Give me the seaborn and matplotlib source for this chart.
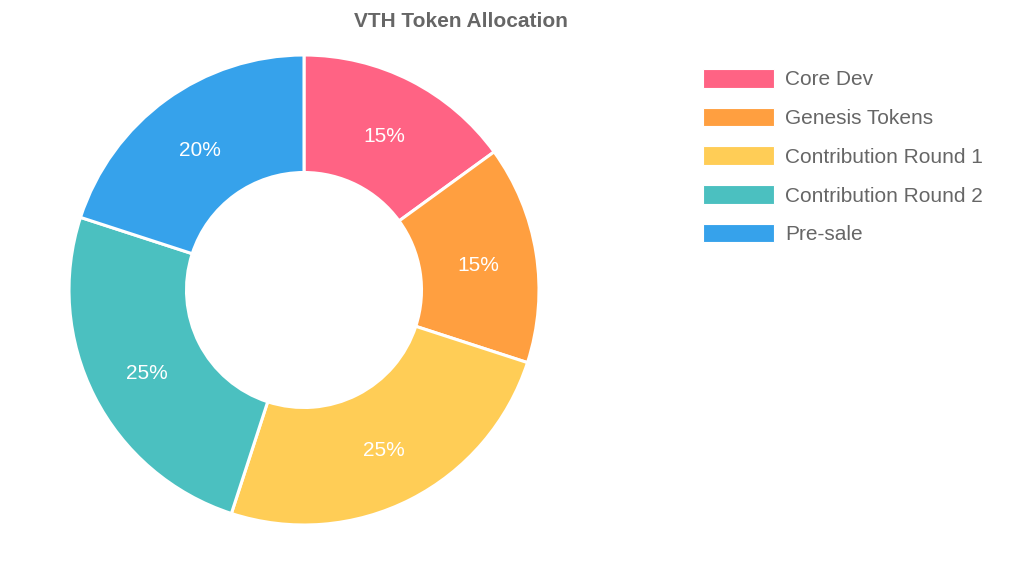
import matplotlib
matplotlib.use("Agg")
import matplotlib.pyplot as plt
import matplotlib.transforms as mtransforms
import seaborn as sns
from matplotlib.patches import Patch

# data
labels = ["Core Dev", "Genesis Tokens", "Contribution Round 1", "Contribution Round 2", "Pre-sale"]
shares = [15, 15, 25, 25, 20]
colors = ["#FF6384", "#FF9F40", "#FFCD56", "#4BC0C0", "#36A2EB"]

sns.set_theme(style="white")
plt.rcParams['font.family'] = ['Liberation Sans', 'DejaVu Sans']

fig = plt.figure(figsize=(10.22, 5.61), dpi=100)
ax = fig.add_axes([69 / 1022, 36 / 561, 470 / 1022, 470 / 561])

pal = sns.color_palette(colors)
wedges, texts, autotexts = ax.pie(
    shares, colors=pal, startangle=90, counterclock=False,
    autopct='%1.0f%%', pctdistance=0.75,
    wedgeprops=dict(width=0.5, edgecolor='white', linewidth=2.2),
    textprops=dict(color='white', fontsize=15),
)
# nudge the percent labels down a little
for t in autotexts:
    t.set_transform(mtransforms.offset_copy(t.get_transform(), fig=fig, y=-3.5, units='dots'))
ax.set_xlim(-1, 1)
ax.set_ylim(-1, 1)
ax.set_aspect('equal')

fig.text(461 / 1022, 1 - 21.5 / 561, "VTH Token Allocation", ha='center', va='center',
         fontsize=15, fontweight='bold', color='#666666')

handles = [Patch(facecolor=c, edgecolor='white', linewidth=0.8) for c in colors]
leg = fig.legend(handles, labels, loc='upper left',
                 bbox_to_anchor=(703 / 1022, 1 - 69 / 561),
                 frameon=False, fontsize=15, borderpad=0, borderaxespad=0,
                 handlelength=3.4, handleheight=1.0, labelspacing=0.875,
                 handletextpad=0.53)
for t in leg.get_texts():
    t.set_color('#666666')

fig.savefig("out.png", dpi=100)
